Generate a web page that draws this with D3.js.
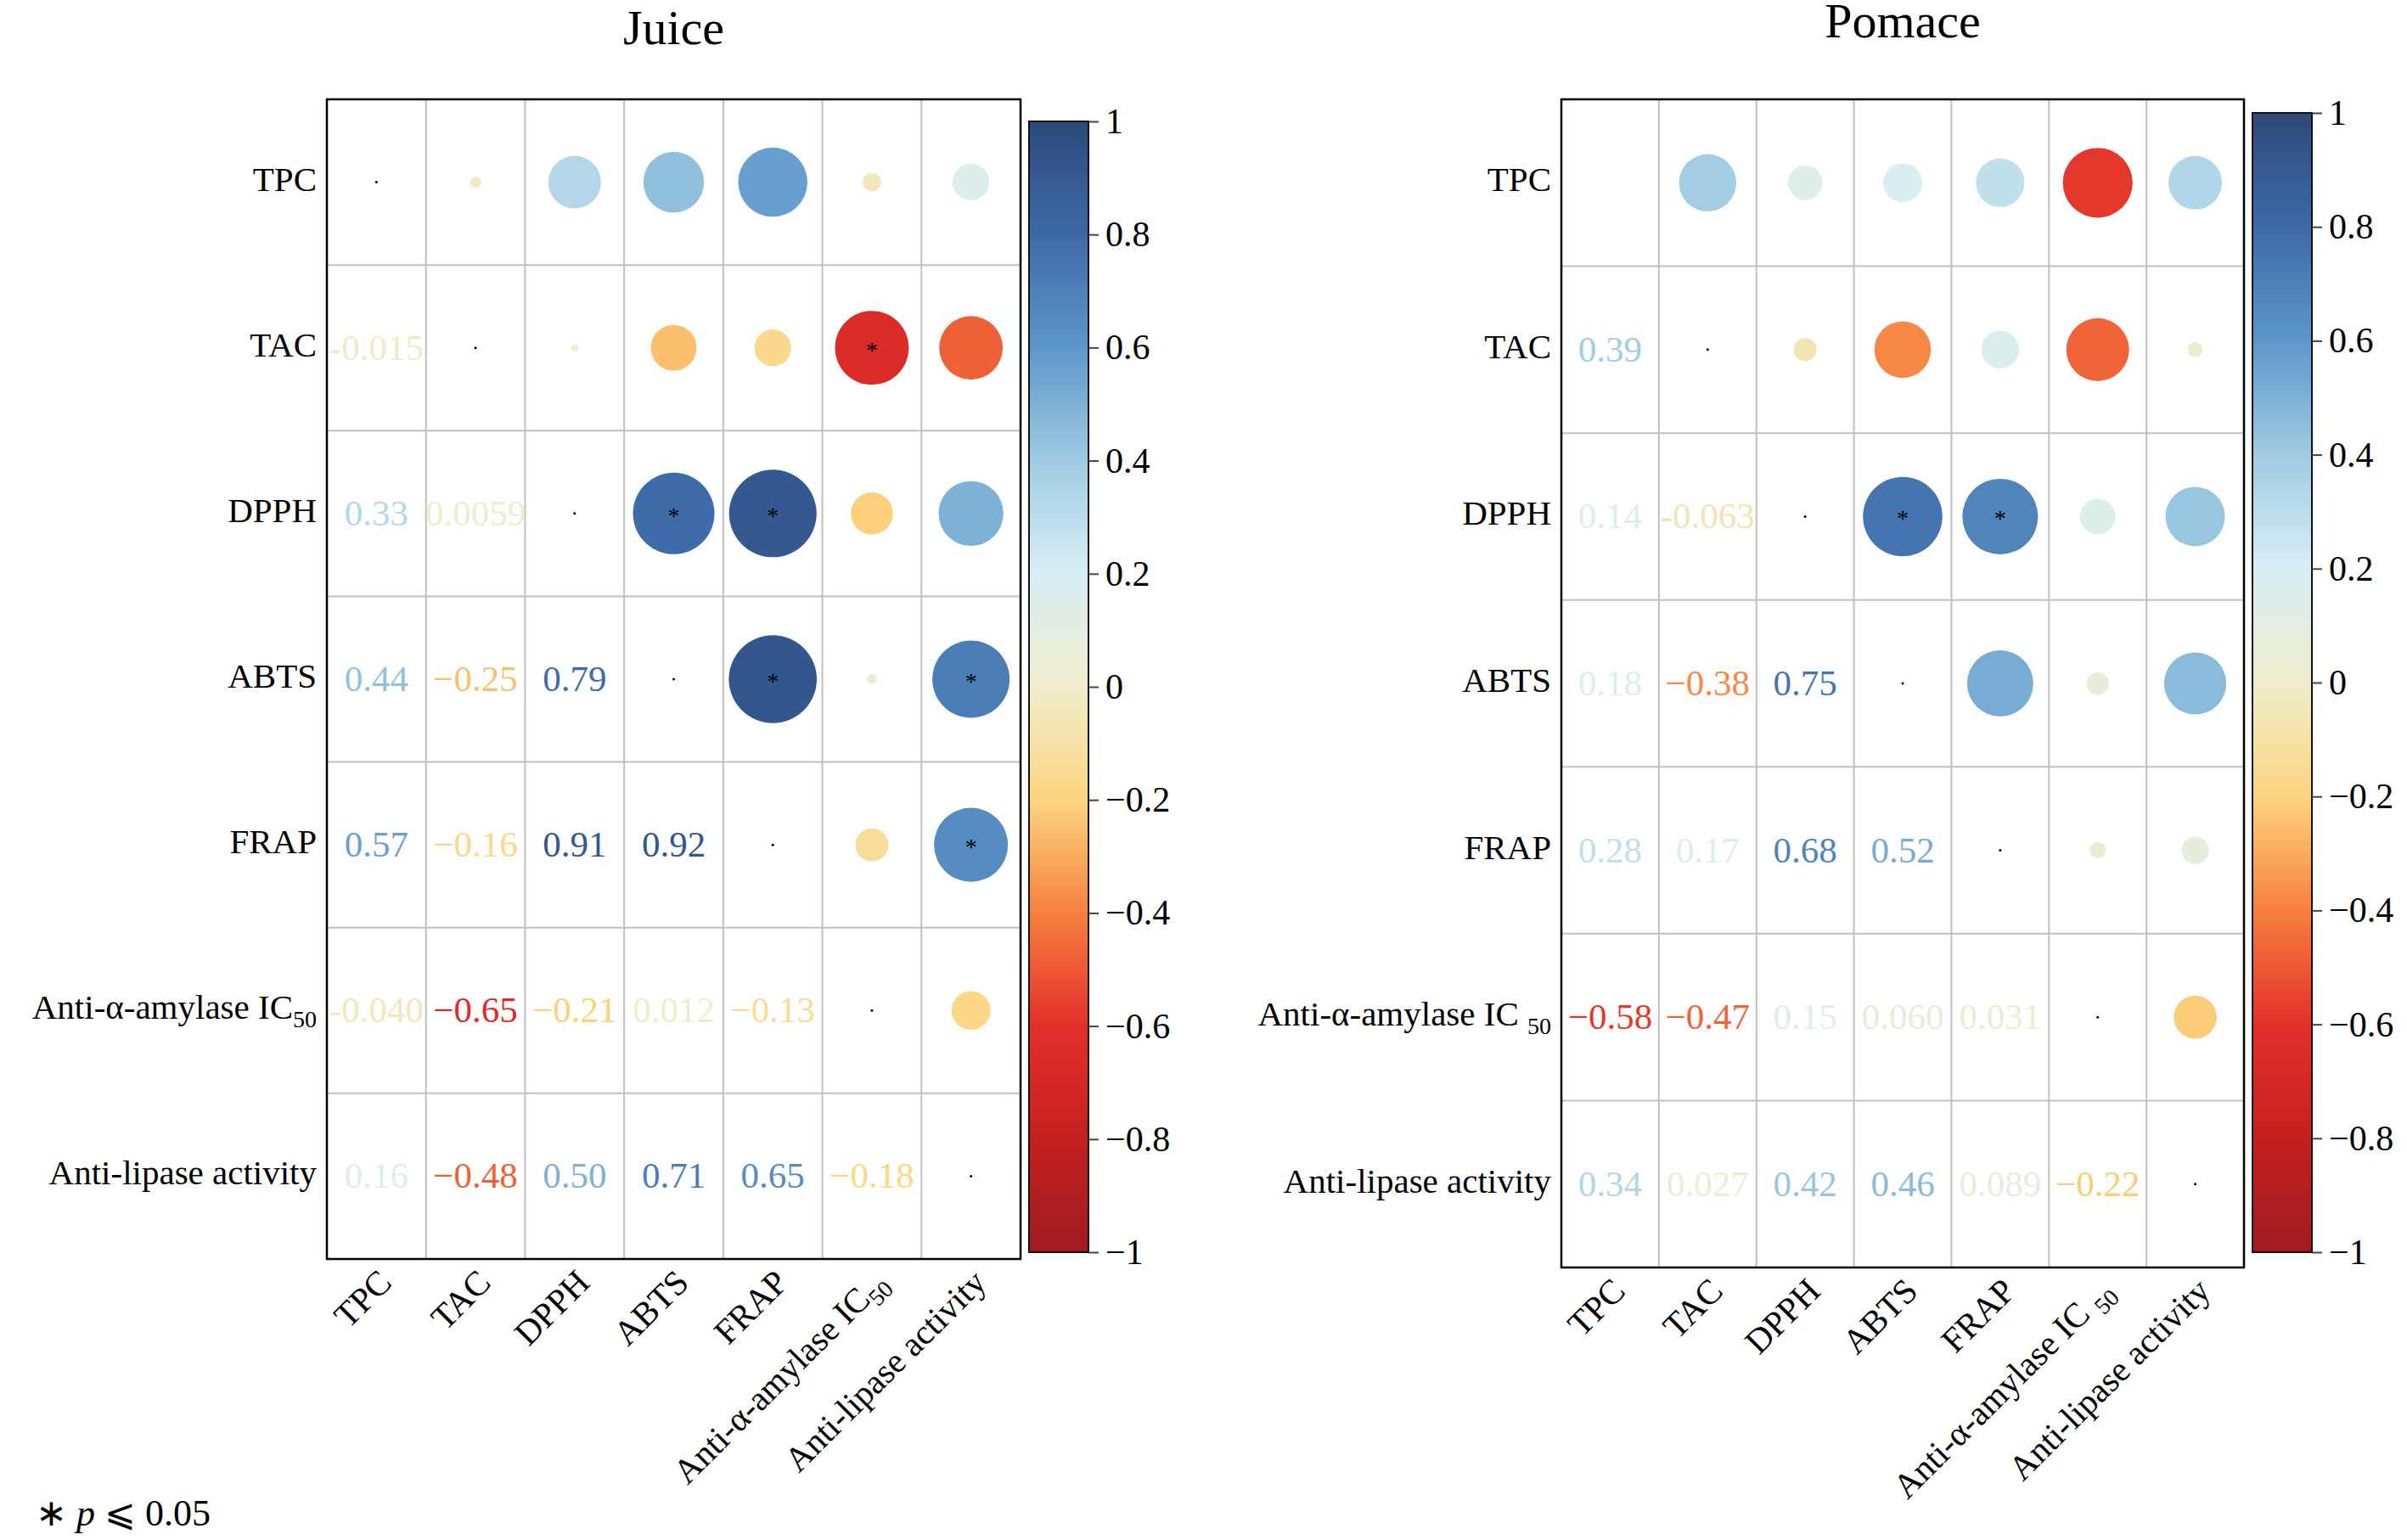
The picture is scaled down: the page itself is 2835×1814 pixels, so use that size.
<!DOCTYPE html><html><head><meta charset="utf-8"><script src="https://cdn.jsdelivr.net/npm/d3@7"></script>
<style>body{margin:0;background:#fff}</style></head><body><svg id="c" width="2835" height="1814"></svg>
<script>
const vars=["TPC","TAC","DPPH","ABTS","FRAP","Anti-α-amylase IC50","Anti-lipase activity"];
const juiceLower=[[],[-0.015],[0.33,0.0059],[0.44,-0.25,0.79],[0.57,-0.16,0.91,0.92],[-0.040,-0.65,-0.21,0.012,-0.13],[0.16,-0.48,0.50,0.71,0.65,-0.18]];
const juiceLabels=[[],["-0.015"],["0.33","0.0059"],["0.44","−0.25","0.79"],["0.57","−0.16","0.91","0.92"],["-0.040","−0.65","−0.21","0.012","−0.13"],["0.16","−0.48","0.50","0.71","0.65","−0.18"]];
const juiceSig=[[1,5],[2,3],[2,4],[3,4],[3,6],[4,6]];
const pomaceLower=[[],[0.39],[0.14,-0.063],[0.18,-0.38,0.75],[0.28,0.17,0.68,0.52],[-0.58,-0.47,0.15,0.060,0.031],[0.34,0.027,0.42,0.46,0.089,-0.22]];
const pomaceLabels=[[],["0.39"],["0.14","-0.063"],["0.18","−0.38","0.75"],["0.28","0.17","0.68","0.52"],["−0.58","−0.47","0.15","0.060","0.031"],["0.34","0.027","0.42","0.46","0.089","−0.22"]];
const pomaceSig=[[2,3],[2,4]];
const cbTicks=[1,0.8,0.6,0.4,0.2,0,-0.2,-0.4,-0.6,-0.8,-1];
const svg=d3.select("#c");
const color=d3.scaleLinear().domain([-1,-0.8,-0.6,-0.4,-0.2,0,0.2,0.4,0.6,0.8,1])
 .range(["#9e1b1e","#c4201f","#e3302a","#f6803f","#fdd47e","#efedcc","#d8eef5","#9fcbe2","#5d97ca","#3d69a8","#2c4a7a"]);
const font="Liberation Serif";
function panel(o){
 const g=svg.append("g");
 const x=d3.scaleBand().domain(d3.range(7)).range([o.x0,o.x1]);
 const y=d3.scaleBand().domain(d3.range(7)).range([o.y0,o.y1]);
 const cw=x.bandwidth(),ch=y.bandwidth();
 const rr=d3.scaleSqrt().domain([0,1]).range([0,54]);
 for(let i=1;i<7;i++){
  g.append("line").attr("x1",x(i)).attr("x2",x(i)).attr("y1",o.y0).attr("y2",o.y1).attr("stroke","#c0c0c0").attr("stroke-width",2);
  g.append("line").attr("y1",y(i)).attr("y2",y(i)).attr("x1",o.x0).attr("x2",o.x1).attr("stroke","#c0c0c0").attr("stroke-width",2);
 }
 g.append("rect").attr("x",o.x0).attr("y",o.y0).attr("width",o.x1-o.x0).attr("height",o.y1-o.y0).attr("fill","none").attr("stroke","#000").attr("stroke-width",2.5);
 const sig=new Set(o.sig.map(d=>d.join(",")));
 for(let i=0;i<7;i++)for(let j=0;j<i;j++){
  const v=o.lower[i][j];
  const cx=x(i)+cw/2,cy=y(j)+ch/2;
  g.append("circle").attr("cx",cx).attr("cy",cy).attr("r",rr(Math.abs(v))).attr("fill",color(v));
  if(sig.has(j+","+i)) g.append("text").attr("x",cx).attr("y",cy+12).attr("text-anchor","middle").attr("font-family",font).attr("font-size",28).text("*");
  g.append("text").attr("x",x(j)+cw/2).attr("y",y(i)+ch/2+14).attr("text-anchor","middle").attr("font-family",font).attr("font-size",43).attr("fill",color(v)).text(o.labels[i][j]);
 }
 for(let i=o.diagStart;i<7;i++) g.append("circle").attr("cx",x(i)+cw/2).attr("cy",y(i)+ch/2).attr("r",1.5).attr("fill","#000");
 function lab(sel,name,sp){
  if(name.endsWith("IC50")){sel.text(name.slice(0,-2)+sp);sel.append("tspan").attr("font-size",28).attr("dy",10).text("50");}
  else sel.text(name);
 }
 vars.forEach((n,i)=>{
  const t=g.append("text").attr("x",o.x0-12).attr("y",y(i)+ch/2+10).attr("text-anchor","end").attr("font-family",font).attr("font-size",41);
  lab(t,n,o.sp);
  const t2=g.append("text").attr("transform",`translate(${x(i)+cw/2+20},${o.y1+30}) rotate(-45)`).attr("text-anchor","end").attr("font-family",font).attr("font-size",41);
  lab(t2,n,o.sp);
 });
 g.append("text").attr("x",(o.x0+o.x1)/2).attr("y",o.ty).attr("text-anchor","middle").attr("font-family",font).attr("font-size",58).text(o.title);
 const cy=d3.scaleLinear().domain([1,-1]).range([o.cb0,o.cb1]);
 const id="grad"+o.title;
 const gr=svg.append("defs").append("linearGradient").attr("id",id).attr("x1",0).attr("x2",0).attr("y1",0).attr("y2",1);
 d3.range(0,21).forEach(k=>{const v=1-k/10;gr.append("stop").attr("offset",k/20).attr("stop-color",color(v));});
 g.append("rect").attr("x",o.cbx).attr("y",o.cb0).attr("width",70).attr("height",o.cb1-o.cb0).attr("fill",`url(#${id})`).attr("stroke","#111").attr("stroke-width",2);
 const ax=g.append("g").attr("transform",`translate(${o.cbx+70},0)`).call(d3.axisRight(cy).tickValues(cbTicks).tickSize(12).tickFormat(d=>d==0?"0":(d<0?"−":"")+Math.abs(d)));
 ax.select(".domain").remove();
 ax.attr("font-family",font);
 ax.selectAll("line").attr("stroke","#444").attr("stroke-width",2);
 ax.selectAll("text").attr("font-family",font).attr("font-size",42).attr("x",20).attr("fill","#000");
}
panel({x0:385,x1:1202,y0:117,y1:1483,lower:juiceLower,labels:juiceLabels,sig:juiceSig,title:"Juice",ty:52,cbx:1212,cb0:143,cb1:1475,sp:"",diagStart:0});
panel({x0:1839,x1:2643,y0:117,y1:1493,lower:pomaceLower,labels:pomaceLabels,sig:pomaceSig,title:"Pomace",ty:44,cbx:2653,cb0:133,cb1:1475,sp:" ",diagStart:1});
const ft=svg.append("text").attr("x",42).attr("y",1797).attr("font-family",font).attr("font-size",44);
ft.append("tspan").text("∗ ");ft.append("tspan").attr("font-style","italic").text("p");ft.append("tspan").text(" ⩽ 0.05");
</script></body></html>
